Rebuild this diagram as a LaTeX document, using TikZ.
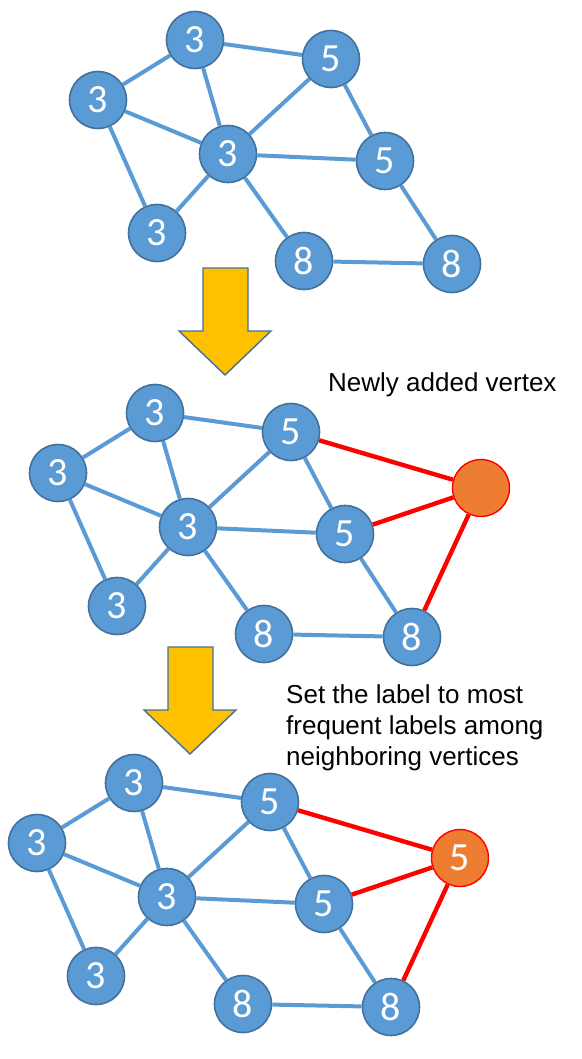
\documentclass[tikz,border=0pt]{standalone}
\usepackage{fontspec}
\setmainfont{Liberation Sans}
\newfontfamily\digitfont{Carlito}
\definecolor{nodeblue}{HTML}{5B9BD5}
\definecolor{rimblue}{HTML}{41719C}
\definecolor{arrowgold}{HTML}{FFC000}
\definecolor{neworange}{HTML}{ED7D31}
\tikzset{
  vertex/.style={circle, fill=nodeblue, draw=rimblue, line width=1.6pt,
    minimum size=57pt, inner sep=0pt, text=white,
    font=\digitfont\fontsize{40}{40}\selectfont},
  newvertex/.style={vertex, fill=neworange, draw=red, line width=1.4pt},
  edge/.style={draw=nodeblue, line width=4pt},
  newedge/.style={draw=red, line width=4.4pt},
  downarrow/.style={fill=arrowgold, draw=rimblue, line width=1.4pt},
  caption/.style={font=\fontsize{26}{31}\selectfont, anchor=base west,
    inner sep=0pt, align=left}
}
\begin{document}
\begin{tikzpicture}[x=1pt, y=-1pt]
    \useasboundingbox (0,0) rectangle (581,1059);

    % The same graph, three times
    \foreach \g/\dx/\dy in {t/0/0, m/-40/373, b/-61/743} {
      \begin{scope}[shift={(\dx,\dy)}]
        \node[vertex] (\g-a) at (195,40) {3};
        \node[vertex] (\g-b) at (98,100) {3};
        \node[vertex] (\g-c) at (331,59) {5};
        \node[vertex] (\g-d) at (228,154) {3};
        \node[vertex] (\g-e) at (385,161) {5};
        \node[vertex] (\g-f) at (157,233) {3};
        \node[vertex] (\g-g) at (304,261) {8};
        \node[vertex] (\g-h) at (452,264) {8};
        \foreach \u/\v in {a/b, a/c, a/d, b/d, b/f, c/d, c/e, d/e, d/f, d/g, e/h, g/h}
          \draw[edge] (\g-\u) -- (\g-\v);
      \end{scope}
    }

    % Newly added vertex, unlabelled and then labelled
    \node[newvertex] (m-n) at (481,488) {};
    \node[newvertex] (b-n) at (460,858) {5};
    \foreach \g in {m, b}
      \foreach \v in {c, e, h}
        \draw[newedge] (\g-n) -- (\g-\v);

    % Big yellow arrows
    \draw[downarrow] (203,268) -- (248,268) -- (248,331) -- (271,331)
      -- (225,375) -- (179,331) -- (203,331) -- cycle;
    \draw[downarrow] (168,647) -- (213,647) -- (213,710) -- (236,710)
      -- (190,754) -- (144,710) -- (168,710) -- cycle;

    % Captions
    \node[caption] (newtext) at (328,391) {Newly added vertex};
    \node[caption] (ruletext) at (286,765) {Set the label to most\\frequent labels among\\neighboring vertices};
\end{tikzpicture}
\end{document}
